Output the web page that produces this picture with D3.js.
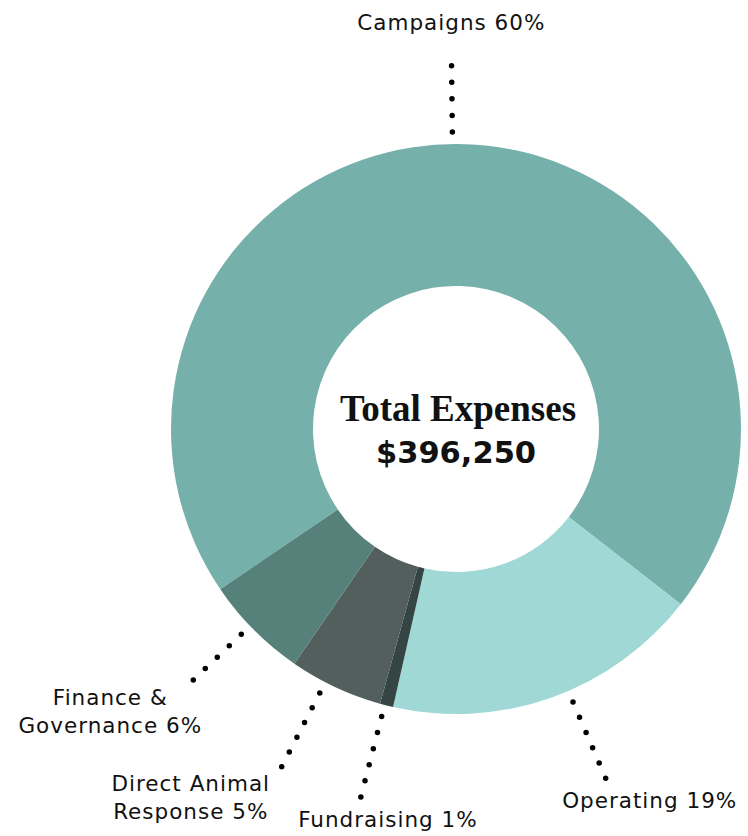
<!DOCTYPE html>
<html>
<head>
<meta charset="utf-8">
<script src="https://cdn.jsdelivr.net/npm/d3@7"></script>
<style>
  body { margin: 0; background: #fff; }
  svg { display: block; }
  .lbl { font-family: "DejaVu Sans", sans-serif; font-size: 21.5px; letter-spacing: 1px; fill: #111; }
  .title { font-family: "Liberation Serif", serif; font-weight: bold; font-size: 37px; fill: #111; }
  .total { font-family: "DejaVu Sans", sans-serif; font-weight: bold; font-size: 30.5px; fill: #111; }
</style>
</head>
<body>
<div id="chart"></div>
<script>
// ── DATA ───────────────────────────────────────────────────────────────
const categories = ["Campaigns", "Operating", "Fundraising", "Direct Animal Response", "Finance & Governance"];
// slice sizes as they are drawn in the ring (share of the circle, %)
const drawnShares = [70.0, 18.0, 0.75, 5.3, 5.9];
// percentages printed in the labels
const pctLabels = ["60%", "19%", "1%", "5%", "6%"];
const labelLines = [
    ["Campaigns 60%"],
    ["Operating 19%"],
    ["Fundraising 1%"],
    ["Direct Animal", "Response 5%"],
    ["Finance &", "Governance 6%"]
];
const centerTitle = "Total Expenses";
const centerTotal = "$396,250";

(function () {
    const width = 748, height = 836;
    const cx = 456, cy = 429;
    const outerR = 285, innerR = 143;

    const colors = ["#76b0aa", "#9fd8d4", "#344543", "#525f5d", "#56817a"];

    // leader line angle (deg, clockwise from 12 o'clock) and label offset from its outer end
    const leaderAngle = [-0.7, 156.8, 194.5, 207.3, 226.3];
    const labelOffset = [[0, -19], [44, 30], [27, 30], [-91, 24], [-71, 13]];

    const svg = d3.select("#chart").append("svg")
        .attr("width", width)
        .attr("height", height);

    const g = svg.append("g").attr("transform", `translate(${cx},${cy})`);

    // ── DONUT ──────────────────────────────────────────────────────────
    const pie = d3.pie()
        .sort(null)
        .value(d => d)
        .startAngle(-124.2 * Math.PI / 180)
        .endAngle((360 - 124.2) * Math.PI / 180);

    const arc = d3.arc().innerRadius(innerR).outerRadius(outerR);

    g.selectAll("path.slice")
        .data(pie(drawnShares))
        .enter().append("path")
        .attr("class", "slice")
        .attr("d", arc)
        .attr("fill", (d, i) => colors[i]);

    // ── LEADERS + LABELS ───────────────────────────────────────────────
    const polar = (deg, r) => {
        const a = deg * Math.PI / 180;
        return [r * Math.sin(a), -r * Math.cos(a)];
    };

    categories.forEach((c, i) => {
        const p0 = polar(leaderAngle[i], outerR + 12);
        const p1 = polar(leaderAngle[i], outerR + 95);
        const len = Math.hypot(p1[0] - p0[0], p1[1] - p0[1]);

        g.append("line")
            .attr("x1", p0[0]).attr("y1", p0[1])
            .attr("x2", p1[0]).attr("y2", p1[1])
            .attr("stroke", "#000")
            .attr("stroke-width", 5.5)
            .attr("stroke-linecap", "round")
            .attr("stroke-dasharray", `0 ${len / 5}`);

        const t = g.append("text")
            .attr("class", "lbl")
            .attr("text-anchor", "middle")
            .attr("x", p1[0] + labelOffset[i][0])
            .attr("y", p1[1] + labelOffset[i][1]);

        labelLines[i].forEach((line, j) => {
            t.append("tspan")
                .attr("x", p1[0] + labelOffset[i][0])
                .attr("dy", j === 0 ? 0 : 28)
                .text(line);
        });
    });

    // ── CENTER TEXT ────────────────────────────────────────────────────
    g.append("text").attr("class", "title")
        .attr("text-anchor", "middle")
        .attr("x", 2).attr("y", -8)
        .text(centerTitle);

    g.append("text").attr("class", "total")
        .attr("text-anchor", "middle")
        .attr("x", 0).attr("y", 34)
        .text(centerTotal);
})();
</script>
</body>
</html>
